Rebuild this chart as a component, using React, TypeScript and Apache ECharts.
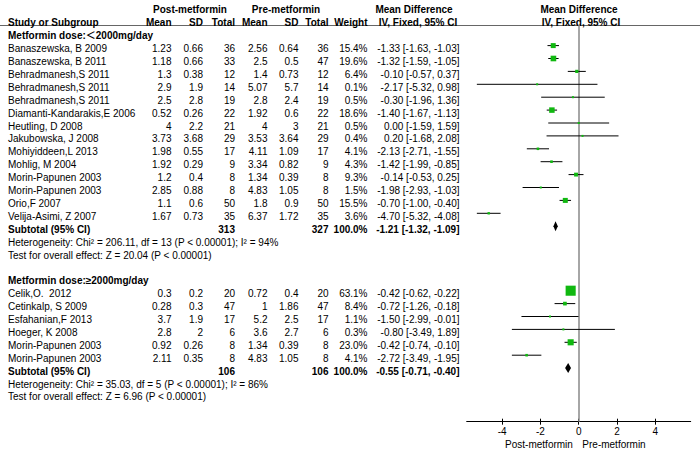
import React, { useEffect, useRef } from "react";
import * as echarts from "echarts";

// ---------- data ----------
const g1Title = "Metformin dose:＜2000mg/day";
const g1Names = [
  "Banaszewska, B 2009", "Banaszewska, B 2011", "Behradmanesh,S 2011", "Behradmanesh,S 2011",
  "Behradmanesh,S 2011", "Diamanti-Kandarakis,E 2006", "Heutling, D 2008", "Jakubowska, J 2008",
  "Mohiyiddeen,L 2013", "Mohlig, M 2004", "Morin-Papunen 2003", "Morin-Papunen 2003",
  "Orio,F 2007", "Velija-Asimi, Z 2007",
];
const g1PostMean = [1.23, 1.18, 1.3, 2.9, 2.5, 0.52, 4, 3.73, 1.98, 1.92, 1.2, 2.85, 1.1, 1.67];
const g1PostSD = [0.66, 0.66, 0.38, 1.9, 2.8, 0.26, 2.2, 3.68, 0.55, 0.29, 0.4, 0.88, 0.6, 0.73];
const g1PostN = [36, 33, 12, 14, 19, 22, 21, 29, 17, 9, 8, 8, 50, 35];
const g1PreMean = [2.56, 2.5, 1.4, 5.07, 2.8, 1.92, 4, 3.53, 4.11, 3.34, 1.34, 4.83, 1.8, 6.37];
const g1PreSD = [0.64, 0.5, 0.73, 5.7, 2.4, 0.6, 3, 3.64, 1.09, 0.82, 0.39, 1.05, 0.9, 1.72];
const g1PreN = [36, 47, 12, 14, 19, 22, 21, 29, 17, 9, 8, 8, 50, 35];
const g1Weight = [15.4, 19.6, 6.4, 0.1, 0.5, 18.6, 0.5, 0.4, 4.1, 4.3, 9.3, 1.5, 15.5, 3.6];
const g1MD = [-1.33, -1.32, -0.1, -2.17, -0.3, -1.4, 0.0, 0.2, -2.13, -1.42, -0.14, -1.98, -0.7, -4.7];
const g1Lo = [-1.63, -1.59, -0.57, -5.32, -1.96, -1.67, -1.59, -1.68, -2.71, -1.99, -0.53, -2.93, -1.0, -5.32];
const g1Hi = [-1.03, -1.05, 0.37, 0.98, 1.36, -1.13, 1.59, 2.08, -1.55, -0.85, 0.25, -1.03, -0.4, -4.08];
const g1Sub = { postN: 313, preN: 327, md: -1.21, lo: -1.32, hi: -1.09 };
const g1Het = "Heterogeneity: Chi² = 206.11, df = 13 (P < 0.00001); I² = 94%";
const g1Test = "Test for overall effect: Z = 20.04 (P < 0.00001)";

const g2Title = "Metformin dose:≥2000mg/day";
const g2Names = ["Celik,O.  2012", "Cetinkalp, S 2009", "Esfahanian,F 2013", "Hoeger, K 2008", "Morin-Papunen 2003", "Morin-Papunen 2003"];
const g2PostMean = [0.3, 0.28, 3.7, 2.8, 0.92, 2.11];
const g2PostSD = [0.2, 0.3, 1.9, 2, 0.26, 0.35];
const g2PostN = [20, 47, 17, 6, 8, 8];
const g2PreMean = [0.72, 1, 5.2, 3.6, 1.34, 4.83];
const g2PreSD = [0.4, 1.86, 2.5, 2.7, 0.39, 1.05];
const g2PreN = [20, 47, 17, 6, 8, 8];
const g2Weight = [63.1, 8.4, 1.1, 0.3, 23.0, 4.1];
const g2MD = [-0.42, -0.72, -1.5, -0.8, -0.42, -2.72];
const g2Lo = [-0.62, -1.26, -2.99, -3.49, -0.74, -3.49];
const g2Hi = [-0.22, -0.18, -0.01, 1.89, -0.1, -1.95];
const g2Sub = { postN: 106, preN: 106, md: -0.55, lo: -0.71, hi: -0.4 };
const g2Het = "Heterogeneity: Chi² = 35.03, df = 5 (P < 0.00001); I² = 86%";
const g2Test = "Test for overall effect: Z = 6.96 (P < 0.00001)";

const tickValues = [-4, -2, 0, 2, 4];
const axisLeftLabel = "Post-metformin";
const axisRightLabel = "Pre-metformin";

// ---------- layout ----------
const FONT = '"Liberation Sans", Arial, "Noto Sans CJK SC", sans-serif';
const F = (bold: boolean) => `${bold ? "bold " : ""}10px ${FONT}`;
const ROW0 = 35.7;
const ROWH = 12.9;
const rowY = (r: number) => ROW0 + ROWH * r;
const COL = {
  name: 8, postMean: 171.5, postSD: 203, postN: 235, preMean: 267.5, preSD: 298.5,
  preN: 328.5, weight: 367.5, ci: 459.5,
};
const GRID_LEFT = 466.7, GRID_RIGHT = 9.3, GRID_TOP = 25, GRID_BOTTOM = 33.3;
const MARK_OFFSET = 3;

const fmtCI = (m: number, l: number, h: number) => `${m.toFixed(2)} [${l.toFixed(2)}, ${h.toFixed(2)}]`;

function txt(text: string, x: number, y: number, align: string, bold = false) {
  return {
    type: "text",
    x, y, silent: true,
    style: {
      text, fill: "#000", font: F(bold),
      textAlign: align, textVerticalAlign: "middle", align, verticalAlign: "middle",
    },
  };
}

export default function App() {
  const ref = useRef<HTMLDivElement>(null);
  useEffect(() => {
    document.body.style.margin = "0";
    const chart = echarts.init(ref.current!, null, { renderer: "svg" });

    const groups = [
      { title: g1Title, names: g1Names, pm: g1PostMean, psd: g1PostSD, pn: g1PostN, qm: g1PreMean, qsd: g1PreSD, qn: g1PreN, w: g1Weight, md: g1MD, lo: g1Lo, hi: g1Hi, sub: g1Sub, het: g1Het, test: g1Test },
      { title: g2Title, names: g2Names, pm: g2PostMean, psd: g2PostSD, pn: g2PostN, qm: g2PreMean, qsd: g2PreSD, qn: g2PreN, w: g2Weight, md: g2MD, lo: g2Lo, hi: g2Hi, sub: g2Sub, het: g2Het, test: g2Test },
    ];

    const texts: any[] = [];
    const studyData: any[] = [];
    const subData: any[] = [];
    let r = 0;
    groups.forEach((g, gi) => {
      if (gi > 0) r += 1; // blank row
      texts.push(txt(g.title, COL.name, rowY(r), "left", true));
      r++;
      g.names.forEach((n, i) => {
        const y = rowY(r);
        texts.push(txt(n, COL.name, y, "left"));
        texts.push(txt(String(g.pm[i]), COL.postMean, y, "right"));
        texts.push(txt(String(g.psd[i]), COL.postSD, y, "right"));
        texts.push(txt(String(g.pn[i]), COL.postN, y, "right"));
        texts.push(txt(String(g.qm[i]), COL.preMean, y, "right"));
        texts.push(txt(String(g.qsd[i]), COL.preSD, y, "right"));
        texts.push(txt(String(g.qn[i]), COL.preN, y, "right"));
        texts.push(txt(g.w[i].toFixed(1) + "%", COL.weight, y, "right"));
        texts.push(txt(fmtCI(g.md[i], g.lo[i], g.hi[i]), COL.ci, y, "right"));
        studyData.push([g.md[i], r, g.lo[i], g.hi[i], g.w[i]]);
        r++;
      });
      const ys = rowY(r);
      texts.push(txt("Subtotal (95% CI)", COL.name, ys, "left", true));
      texts.push(txt(String(g.sub.postN), COL.postN, ys, "right", true));
      texts.push(txt(String(g.sub.preN), COL.preN, ys, "right", true));
      texts.push(txt("100.0%", COL.weight, ys, "right", true));
      texts.push(txt(fmtCI(g.sub.md, g.sub.lo, g.sub.hi), COL.ci, ys, "right", true));
      subData.push([g.sub.md, r, g.sub.lo, g.sub.hi]);
      r++;
      texts.push(txt(g.het, COL.name, rowY(r), "left"));
      r++;
      texts.push(txt(g.test, COL.name, rowY(r), "left"));
      r++;
    });

    // headers
    const h1 = 9, h2 = 22;
    texts.push(txt("Post-metformin", 190, h1, "center", true));
    texts.push(txt("Pre-metformin", 286, h1, "center", true));
    texts.push(txt("Mean Difference", 414, h1, "center", true));
    texts.push(txt("Mean Difference", 579, h1, "center", true));
    texts.push(txt("Study or Subgroup", COL.name, h2, "left", true));
    texts.push(txt("Mean", COL.postMean, h2, "right", true));
    texts.push(txt("SD", COL.postSD, h2, "right", true));
    texts.push(txt("Total", COL.postN, h2, "right", true));
    texts.push(txt("Mean", COL.preMean, h2, "right", true));
    texts.push(txt("SD", COL.preSD, h2, "right", true));
    texts.push(txt("Total", COL.preN, h2, "right", true));
    texts.push(txt("Weight", COL.weight, h2, "right", true));
    texts.push(txt("IV, Fixed, 95% CI", 418, h2, "center", true));
    texts.push(txt("IV, Fixed, 95% CI", 581, h2, "center", true));
    texts.push(txt(axisLeftLabel, 539, 444, "center"));
    texts.push(txt(axisRightLabel, 614, 444, "center"));

    const plotH = 455 - GRID_TOP - GRID_BOTTOM;
    const yMin = -(ROW0 - MARK_OFFSET - GRID_TOP) / ROWH;
    const yMax = yMin + plotH / ROWH;
    const xMin = -5.85, xMax = 5.85;

    chart.setOption({
      animation: false,
      grid: { left: GRID_LEFT, right: GRID_RIGHT, top: GRID_TOP, bottom: GRID_BOTTOM },
      xAxis: [
        {
          type: "value", min: xMin, max: xMax, position: "bottom",
          splitLine: { show: false },
          axisLine: { show: true, onZero: false, lineStyle: { color: "#000", width: 1 } },
          axisTick: { show: true, length: 3, customValues: tickValues, lineStyle: { color: "#000" } },
          axisLabel: { show: true, customValues: tickValues, color: "#000", fontSize: 10, fontFamily: FONT, margin: 5 },
        },
        {
          type: "value", min: xMin, max: xMax, position: "bottom", gridIndex: 0,
          splitLine: { show: false },
          axisLine: { show: false, onZero: false },
          axisTick: { show: true, inside: true, length: 3, customValues: tickValues, lineStyle: { color: "#000" } },
          axisLabel: { show: false },
        },
      ],
      yAxis: { type: "value", inverse: true, min: yMin, max: yMax, show: false },
      graphic: [
        { type: "line", silent: true, shape: { x1: 0, y1: 25.5, x2: 700, y2: 25.5 }, style: { stroke: "#666", lineWidth: 1 } },
        ...texts,
      ],
      series: [
        {
          type: "custom",
          xAxisIndex: 0,
          encode: { x: 0, y: 1 },
          data: studyData,
          renderItem: (_p: any, api: any) => {
            const md = api.value(0), row = api.value(1), lo = api.value(2), hi = api.value(3), w = api.value(4);
            const a = api.coord([lo, row]);
            const b = api.coord([hi, row]);
            const c = api.coord([md, row]);
            const s = Math.max(2, 1.27 * Math.sqrt(w));
            return {
              type: "group",
              children: [
                { type: "line", shape: { x1: a[0], y1: a[1], x2: b[0], y2: b[1] }, style: { stroke: "#000", lineWidth: 1 } },
                { type: "rect", shape: { x: c[0] - s / 2, y: c[1] - s / 2, width: s, height: s }, style: { fill: "#10b810" } },
              ],
            };
          },
          markLine: {
            silent: true, symbol: ["none", "none"], label: { show: false },
            lineStyle: { color: "#888", width: 1.5, type: "solid" },
            data: [{ xAxis: 0 }],
            z: 1,
          },
          z: 3,
        },
        {
          type: "custom",
          xAxisIndex: 0,
          encode: { x: 0, y: 1 },
          data: subData,
          renderItem: (_p: any, api: any) => {
            const md = api.value(0), row = api.value(1), lo = api.value(2), hi = api.value(3);
            const a = api.coord([lo, row]);
            const b = api.coord([hi, row]);
            const c = api.coord([md, row]);
            const h = 5;
            return {
              type: "polygon",
              shape: { points: [[a[0], a[1]], [c[0], c[1] - h], [b[0], b[1]], [c[0], c[1] + h]] },
              style: { fill: "#000" },
            };
          },
          z: 3,
        },
      ],
    });
    return () => chart.dispose();
  }, []);
  return <div ref={ref} style={{ width: 700, height: 455 }} />;
}
